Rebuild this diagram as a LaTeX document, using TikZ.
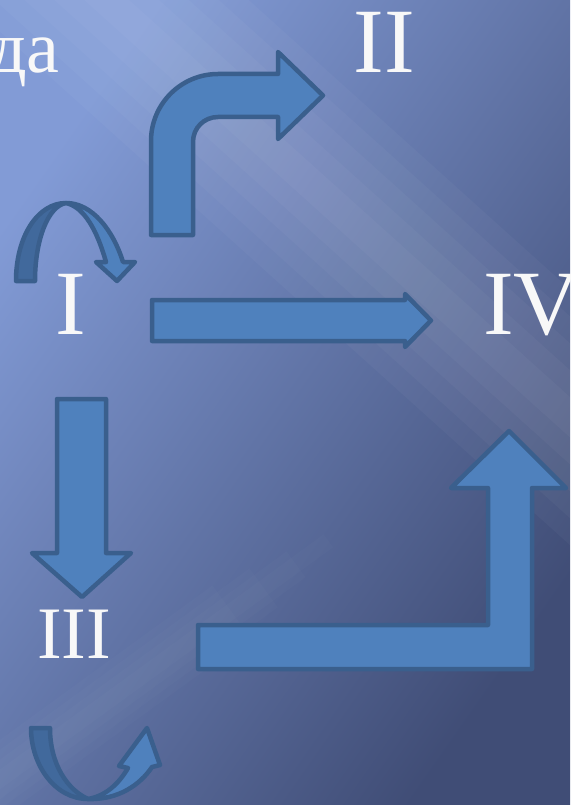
\documentclass[tikz,border=0pt]{standalone}
\usepackage{fontspec}
\setmainfont{Liberation Serif}
\definecolor{arrfill}{HTML}{4F81BD}
\definecolor{arrline}{HTML}{3A5F8D}
\definecolor{arrdark}{HTML}{41699C}
\definecolor{bgA}{HTML}{829BD6}
\definecolor{bgB}{HTML}{5F73A7}
\definecolor{bgC}{HTML}{404D76}
\definecolor{txt}{HTML}{F8F8F8}
\tikzset{
  blockarrow/.style={fill=arrfill, draw=arrline, line width=4.5pt, line join=round},
  darkband/.style={fill=arrdark, draw=arrline, line width=4.5pt, line join=round},
  numeral/.style={text=txt, inner sep=0pt, font=\fontsize{92}{92}\selectfont, anchor=base},
  smalltext/.style={text=txt, inner sep=0pt, font=\fontsize{74}{74}\selectfont, anchor=base},
}
\begin{document}
\begin{tikzpicture}[x=1pt,y=-1pt]
\useasboundingbox (0,0) rectangle (570,805);
% background
\shade[shading=axis, top color=bgA, middle color=bgB, bottom color=bgC, shading angle=55] (0,0) rectangle (570,805);
\begin{scope}
\clip (0,0) rectangle (570,805);
\begin{scope}[shift={(40,-60)}, rotate=-42]
  \foreach \w in {15,35,55,75,95}{
    \fill[white, opacity=0.03] (-100,-\w) rectangle (900,\w);
  }
\end{scope}
\begin{scope}[shift={(-60,823)}, rotate=36]
  \foreach \w/\l in {8/480,16/440,24/400,32/360}{
    \fill[white, opacity=0.016] (-100,-\w) rectangle (\l,\w);
  }
\end{scope}
\end{scope}
% texts
\node[smalltext, anchor=base east] (da) at (60,73) {да};
\node[numeral] (nII) at (384,73) {II};
\node[numeral] (nI) at (71,334) {I};
\node[numeral, anchor=base west] (nIV) at (483,334) {IV};
\node[smalltext] (nIII) at (74,658) {III};
% bent arrow to II
\draw[blockarrow] (151,235) -- (151,141) .. controls (151,104) and (181,74) .. (218,74)
  -- (278,74) -- (278,52) -- (323,95.5) -- (278,139) -- (278,117) -- (218,117)
  .. controls (204,117) and (193,128) .. (193,142) -- (193,235) -- cycle;
% straight arrow I -> IV
\draw[blockarrow] (152,300) -- (405,300) -- (405,294) -- (431,320.5) -- (405,347) -- (405,341) -- (152,341) -- cycle;
% down arrow I -> III
\draw[blockarrow] (57,399) -- (106,399) -- (106,553) -- (131,553) -- (82,597) -- (32,553) -- (57,553) -- cycle;
% L arrow III -> IV
\draw[blockarrow] (198,625) -- (488,625) -- (488,488) -- (451,488) -- (509,431) -- (566,488) -- (532,488) -- (532,669) -- (198,669) -- cycle;
% curved arrow over I
\draw[darkband] (16,281) .. controls (16,236) and (38,203) .. (66,203)
  .. controls (48,206) and (35,240) .. (35,281) -- cycle;
\draw[blockarrow] (66,203) .. controls (92,203) and (113,230) .. (123,262)
  -- (135,262) -- (117,281) -- (96,262) -- (106,262)
  .. controls (97,230) and (84,207) .. (66,203) -- cycle;
% curved arrow below III
\draw[darkband] (31,728) .. controls (31,765) and (55,799) .. (88,799)
  .. controls (68,790) and (50,765) .. (50,728) -- cycle;
\draw[blockarrow] (88,799) .. controls (118,800) and (140,785) .. (152,767)
  -- (160,765) -- (147,728) -- (119,766) -- (128,768)
  .. controls (118,785) and (105,796) .. (88,799) -- cycle;
\end{tikzpicture}
\end{document}
